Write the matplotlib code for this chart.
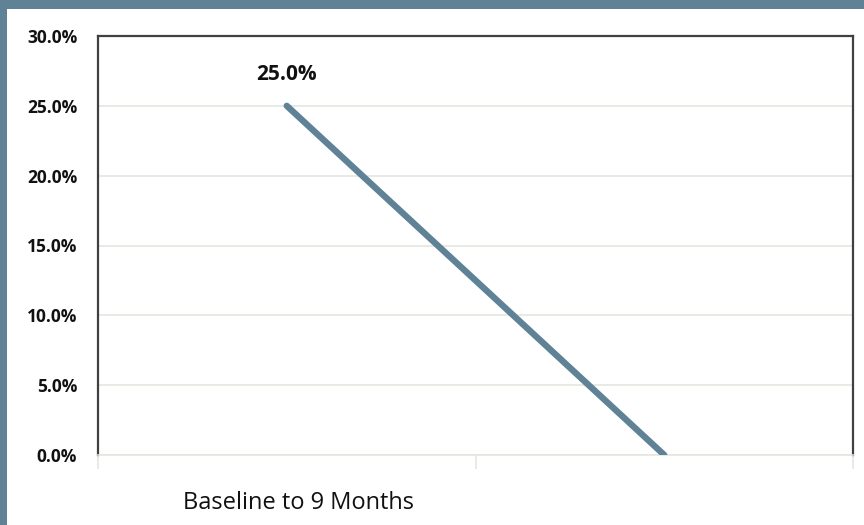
import matplotlib
matplotlib.use('Agg')
from matplotlib import pyplot as plt
from matplotlib.patches import Rectangle
from matplotlib.ticker import FuncFormatter

## data ---------
categories = ['Baseline to 9 Months', '']
values = [25.0, 0.0]
point_labels = ['25.0%', '']
y_ticks = [0, 5, 10, 15, 20, 25, 30]

plt.rcParams['font.family'] = ['Open Sans', 'DejaVu Sans']

border = '#5f8296'

fig = plt.figure(figsize=(8.64, 5.25), dpi=100)
fig.patch.set_facecolor(border)
# white panel inside the slate frame
fig.patches.append(Rectangle((7 / 864, 0), 1, 1 - 9 / 525, transform=fig.transFigure,
                             facecolor='white', edgecolor='none', zorder=-5))

ax = fig.add_axes([98 / 864, 1 - 455 / 525, (853 - 98) / 864, (455 - 36) / 525])
ax.set_zorder(2)
ax.set_facecolor('white')

x = list(range(len(categories)))
ax.plot(x, values, color=border, linewidth=4.6, solid_capstyle='round', zorder=3)

for i, (v, lab) in enumerate(zip(values, point_labels)):
    if lab:
        ax.annotate(lab, (i, v), xytext=(0, 15), textcoords='offset points',
                    ha='center', va='bottom', fontsize=15, fontweight='bold', color='#111111')

ax.set_xlim(-0.5, len(categories) - 0.5)
ax.set_ylim(0, 30)
ax.set_yticks(y_ticks)
ax.yaxis.set_major_formatter(FuncFormatter(lambda v, p: '%.1f%%' % v))
for t in ax.get_yticklabels():
    t.set_fontweight('bold')
ax.tick_params(axis='y', length=0, pad=15, labelsize=12.5, labelcolor='#111111')

ax.grid(axis='y', color='#e6e6e0', linewidth=1.2, zorder=0)
ax.set_axisbelow(True)

# category boundaries as major ticks, names on minor ticks
ax.set_xticks([i - 0.5 for i in range(len(categories) + 1)])
ax.set_xticklabels([])
ax.tick_params(axis='x', which='major', length=10, color='#e6e6e0', width=1.2)
ax.set_xticks([i + 0.03 for i in x], minor=True)
ax.set_xticklabels(categories, minor=True)
ax.tick_params(axis='x', which='minor', length=0, pad=26, labelsize=17, labelcolor='#111111')

for s in ['left', 'top', 'right']:
    ax.spines[s].set_color('#404040')
    ax.spines[s].set_linewidth(1.6)
ax.spines['bottom'].set_color('#e6e6e0')
ax.spines['bottom'].set_linewidth(1.2)

plt.savefig('out.png', dpi=100, facecolor=fig.get_facecolor())
